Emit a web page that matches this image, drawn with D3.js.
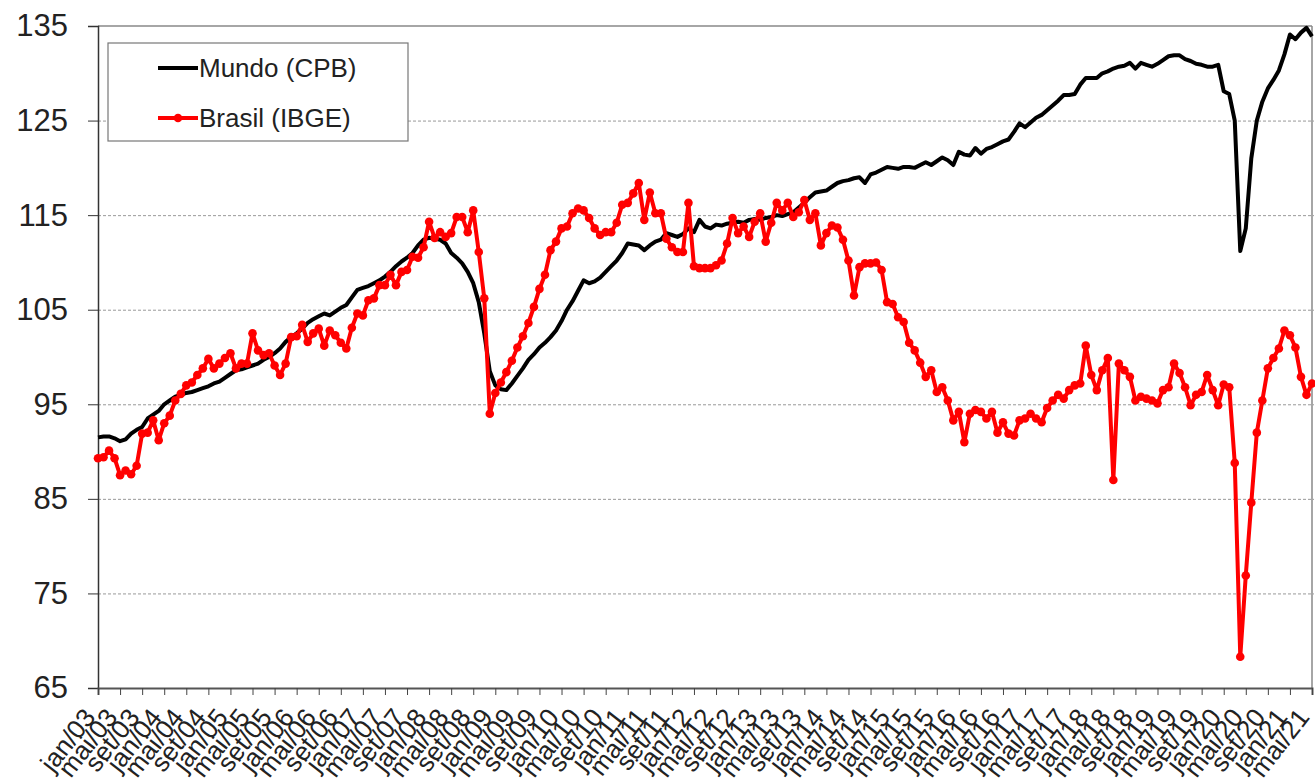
<html>
<head>
    <meta charset="utf-8">
    <script src="https://d3js.org/d3.v7.min.js"></script>
    <title>Mundo x Brasil</title>
    <style>
        body { margin: 0; background: #fff; }
        text { font-family: "Liberation Sans", Arial, sans-serif; fill: #222; }
        .gridlines line { stroke: #999; stroke-dasharray: 3,2; }
        .gridlines .domain { stroke: none; }
    </style>
</head>
<body>
<svg id="chart"></svg>
<script>
    // monthly index, jan/03 .. mai/21 (221 months)
    const tickLabels = [
        "jan/03","mai/03","set/03","jan/04","mai/04","set/04","jan/05","mai/05","set/05",
        "jan/06","mai/06","set/06","jan/07","mai/07","set/07","jan/08","mai/08","set/08",
        "jan/09","mai/09","set/09","jan/10","mai/10","set/10","jan/11","mai/11","set/11",
        "jan/12","mai/12","set/12","jan/13","mai/13","set/13","jan/14","mai/14","set/14",
        "jan/15","mai/15","set/15","jan/16","mai/16","set/16","jan/17","mai/17","set/17",
        "jan/18","mai/18","set/18","jan/19","mai/19","set/19","jan/20","mai/20","set/20",
        "jan/21","mai/21"
    ];
    const yTicks = [65, 75, 85, 95, 105, 115, 125, 135];

    // Mundo (CPB)
    const mundo = [
        91.5,91.6,91.6,91.4,91.1,91.3,91.9,92.3,92.6,93.5,93.9,94.3,
        95.0,95.4,95.8,96.0,96.2,96.3,96.5,96.7,96.9,97.2,97.4,97.8,
        98.2,98.6,98.7,98.9,99.1,99.3,99.7,100.0,100.4,100.9,101.6,102.1,
        102.5,103.0,103.6,104.0,104.3,104.6,104.4,104.8,105.2,105.5,106.3,107.1,
        107.3,107.5,107.8,108.1,108.5,109.0,109.6,110.1,110.5,111.0,111.8,112.4,
        112.6,112.5,112.4,112.0,111.0,110.5,109.9,109.0,107.8,105.8,102.5,98.5,
        97.0,96.6,96.5,97.2,98.0,98.8,99.7,100.3,101.0,101.5,102.1,102.8,
        103.8,105.0,105.9,107.0,108.1,107.8,108.0,108.4,109.0,109.6,110.2,111.0,
        112.0,111.9,111.8,111.3,111.8,112.2,112.4,113.1,112.9,112.7,113.0,113.6,
        113.2,114.5,113.8,113.6,114.0,113.9,114.1,114.2,114.3,114.2,114.5,114.6,
        114.5,114.7,114.8,115.0,114.9,115.1,115.3,115.8,116.3,116.9,117.4,117.5,
        117.6,118.0,118.4,118.6,118.7,118.9,119.0,118.4,119.3,119.5,119.8,120.1,
        120.0,119.9,120.1,120.1,120.0,120.3,120.6,120.3,120.7,121.1,120.8,120.3,
        121.7,121.4,121.3,122.1,121.5,122.0,122.2,122.5,122.8,123.0,123.8,124.7,
        124.3,124.8,125.3,125.6,126.1,126.6,127.1,127.7,127.7,127.8,128.8,129.5,
        129.5,129.5,130.0,130.2,130.5,130.7,130.8,131.1,130.5,131.1,130.9,130.7,
        131.0,131.4,131.8,131.9,131.9,131.5,131.3,131.0,130.9,130.7,130.7,130.9,
        128.1,127.8,125.0,111.2,113.6,121.0,125.0,127.0,128.4,129.3,130.3,132.0,
        134.1,133.6,134.3,134.8,133.9
    ];

    // Brasil (IBGE)
    const brasil = [
        89.3,89.4,90.1,89.3,87.5,88.0,87.6,88.5,91.9,92.0,93.3,91.2,
        93.0,93.8,95.4,96.1,97.0,97.3,98.1,98.8,99.8,98.8,99.3,99.9,
        100.4,98.8,99.3,99.3,102.5,100.7,100.2,100.4,99.1,98.1,99.3,102.1,
        102.2,103.4,101.6,102.5,103.0,101.2,102.8,102.3,101.5,100.9,103.1,104.6,
        104.4,106.0,106.2,107.6,107.6,108.7,107.6,109.0,109.2,110.6,110.5,111.6,
        114.3,112.6,113.2,112.7,113.1,114.8,114.8,113.2,115.5,111.1,106.2,94.0,
        96.2,97.3,98.4,99.6,101.0,102.2,103.6,105.3,107.2,108.7,111.3,112.2,
        113.6,113.8,115.2,115.7,115.5,114.7,113.6,112.9,113.2,113.2,114.2,116.1,
        116.3,117.3,118.4,114.5,117.4,115.2,115.2,112.5,111.6,111.1,111.1,116.3,
        109.6,109.4,109.4,109.4,109.7,110.2,112.0,114.7,113.1,113.8,112.7,114.3,
        115.2,112.2,114.2,116.3,115.5,116.3,114.8,115.3,116.6,114.5,115.2,111.8,
        113.1,113.9,113.7,112.4,110.2,106.5,109.5,109.9,109.9,110.0,109.2,105.8,
        105.6,104.2,103.7,101.5,100.7,99.4,97.9,98.6,96.3,96.8,95.4,93.3,
        94.2,91.0,94.0,94.4,94.2,93.5,94.2,92.0,93.1,91.9,91.7,93.3,
        93.5,94.0,93.5,93.1,94.6,95.4,96.0,95.6,96.5,97.0,97.2,101.2,
        98.1,96.5,98.6,99.9,87.0,99.3,98.6,97.9,95.4,95.8,95.6,95.4,
        95.1,96.5,96.8,99.3,98.3,96.8,94.9,96.0,96.3,98.1,96.5,94.9,
        97.1,96.8,88.8,68.3,76.9,84.6,92.0,95.4,98.8,99.9,100.9,102.8,
        102.3,101.0,97.9,96.0,97.2
    ];

    const width = 1315;
    const height = 782;
    const margins = {top: 26, right: 1, bottom: 94, left: 98};
    const chartWidth = width - margins.left - margins.right;
    const chartHeight = height - margins.top - margins.bottom;

    let svg = d3.select("svg#chart")
                .attr("width", width)
                .attr("height", height);

    const xScale = d3.scaleLinear()
                     .domain([0, mundo.length - 1])
                     .range([0, chartWidth - 2]);
    const yScale = d3.scaleLinear()
                     .domain([65, 135])
                     .range([chartHeight, 0]);

    let chartArea = svg.append("g")
                       .attr("transform", `translate(${margins.left}, ${margins.top})`);

    // gridlines
    let grid = d3.axisLeft(yScale)
                 .tickValues(yTicks.slice(1, -1))
                 .tickSize(-chartWidth)
                 .tickFormat("");
    chartArea.append("g")
             .attr("class", "gridlines")
             .call(grid);

    // top and right border of plot area
    chartArea.append("line")
             .attr("x1", 0).attr("x2", chartWidth - 2)
             .attr("y1", 0).attr("y2", 0)
             .attr("stroke", "#888").attr("stroke-width", 1.5);
    chartArea.append("line")
             .attr("x1", chartWidth - 2).attr("x2", chartWidth - 2)
             .attr("y1", 0).attr("y2", chartHeight)
             .attr("stroke", "#888").attr("stroke-width", 1.5);

    // y axis
    let leftAxis = d3.axisLeft(yScale)
                     .tickValues(yTicks)
                     .tickSize(10)
                     .tickPadding(20)
                     .tickFormat(d3.format("d"));
    let yAxisG = chartArea.append("g").call(leftAxis);
    yAxisG.select(".domain").attr("stroke", "#333").attr("stroke-width", 1.5);
    yAxisG.selectAll(".tick line").attr("stroke", "#333");
    yAxisG.selectAll("text").style("font-size", "31px").attr("fill", "#222");

    // x axis
    let xAxis = d3.axisBottom(xScale)
                  .tickValues(d3.range(0, mundo.length, 4))
                  .tickSize(7)
                  .tickFormat((d, i) => tickLabels[i]);
    let xAxisG = chartArea.append("g")
                          .attr("transform", `translate(0, ${chartHeight})`)
                          .call(xAxis);
    xAxisG.select(".domain").attr("stroke", "#555").attr("stroke-width", 2);
    xAxisG.selectAll(".tick line").attr("stroke", "#444");
    xAxisG.selectAll("text")
          .style("font-size", "26px")
          .attr("fill", "#222")
          .attr("text-anchor", "end")
          .attr("y", 0)
          .attr("dy", "0.35em")
          .attr("transform", "translate(-9, 24) rotate(-52)");

    // series
    let line = d3.line()
                 .x((d, i) => xScale(i))
                 .y(d => yScale(d));

    chartArea.append("path")
             .datum(mundo)
             .attr("d", line)
             .attr("fill", "none")
             .attr("stroke", "#000")
             .attr("stroke-width", 4)
             .attr("stroke-linejoin", "round");

    chartArea.append("path")
             .datum(brasil)
             .attr("d", line)
             .attr("fill", "none")
             .attr("stroke", "#ff0000")
             .attr("stroke-width", 4)
             .attr("stroke-linejoin", "round");

    chartArea.selectAll("circle.brasil")
             .data(brasil)
             .enter()
             .append("circle")
             .attr("class", "brasil")
             .attr("cx", (d, i) => xScale(i))
             .attr("cy", d => yScale(d))
             .attr("r", 4.3)
             .style("fill", "#ff0000");

    // legend
    let legend = svg.append("g").attr("transform", "translate(108, 43)");
    legend.append("rect")
          .attr("width", 300).attr("height", 98)
          .attr("fill", "#fff")
          .attr("stroke", "#777").attr("stroke-width", 1.2);

    legend.append("line")
          .attr("x1", 50).attr("x2", 90).attr("y1", 25).attr("y2", 25)
          .attr("stroke", "#000").attr("stroke-width", 4);
    legend.append("text")
          .attr("x", 91).attr("y", 25).attr("dy", "0.35em")
          .style("font-size", "26px")
          .text("Mundo (CPB)");

    legend.append("line")
          .attr("x1", 50).attr("x2", 90).attr("y1", 75).attr("y2", 75)
          .attr("stroke", "#ff0000").attr("stroke-width", 4);
    legend.append("circle")
          .attr("cx", 70).attr("cy", 75).attr("r", 4.3)
          .style("fill", "#ff0000");
    legend.append("text")
          .attr("x", 91).attr("y", 75).attr("dy", "0.35em")
          .style("font-size", "26px")
          .text("Brasil (IBGE)");
</script>
</body>
</html>
